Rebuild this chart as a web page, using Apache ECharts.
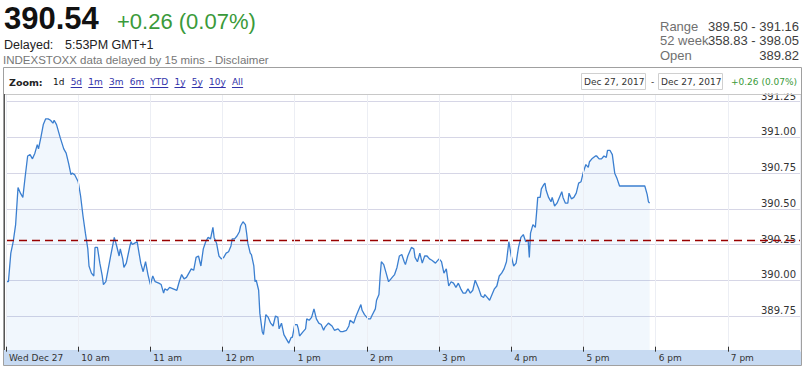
<!DOCTYPE html>
<html><head><meta charset="utf-8">
<script src="https://cdn.jsdelivr.net/npm/echarts@6/dist/echarts.min.js"></script>
<style>html,body{margin:0;padding:0;background:#fff}#c{width:807px;height:369px}</style>
</head><body><div id="c"></div>
<script>
// minutes after 09:00 on Wed Dec 27, 2017
const times = [
  0,2,4,6,8,10,12,14,16,18,
  20,22,24,26,27,29,31,33,35,37,
  39,40,42,44,45,48,50,52,54,55,
  57,60,62,64,66,68,69,71,73,74,
  76,78,80,81,83,85,87,90,92,94,
  95,97,98,100,103,104,105,107,109,111,
  112,114,116,118,120,122,124,127,129,131,
  132,134,136,139,142,144,146,148,150,152,
  154,156,158,160,162,164,166,168,170,172,
  173,175,177,179,181,183,185,187,188,190,
  192,194,195,197,199,200,201,203,204,206,
  207,208,210,211,213,214,216,218,220,222,
  224,226,227,229,231,233,235,237,238,240,
  242,243,244,247,249,250,252,254,256,258,
  260,262,264,265,268,271,273,276,278,280,
  283,285,286,289,291,293,295,296,298,301,
  303,304,307,308,310,311,312,314,316,318,
  320,321,323,325,327,329,331,332,334,337,
  339,340,342,344,346,348,350,352,354,357,
  358,360,362,364,366,368,370,372,374,376,
  378,380,382,384,386,388,390,393,395,397,
  398,400,402,404,406,408,410,412,414,416,
  418,420,422,424,426,428,430,432,434,435,
  436,438,440,441,442,444,445,447,448,449,
  451,453,454,456,458,460,462,463,465,467,
  468,470,472,474,476,478,480,482,484,485,
  487,490,491,493,495,497,499,500,502,504,
  506,508,510,516,521,527,531,533,534,535
];
const values = [
  389.99,389.99,390.19,390.27,390.39,390.65,390.61,390.58,390.73,390.87,
  390.88,390.85,390.89,390.95,390.92,391.00,391.09,391.13,391.13,391.12,
  391.10,391.12,391.09,391.03,391.00,390.92,390.89,390.82,390.74,390.75,
  390.74,390.69,390.59,390.45,390.33,390.22,390.10,390.05,390.03,390.23,
  390.23,390.12,390.03,389.97,389.99,390.08,390.17,390.30,390.24,390.17,
  390.22,390.15,390.09,390.12,390.24,390.27,390.25,390.26,390.27,390.17,
  390.12,390.06,390.13,390.04,389.97,390.03,389.99,389.98,389.97,389.91,
  389.94,389.93,389.95,389.94,389.93,389.99,390.04,390.01,390.02,390.05,
  390.08,390.07,390.16,390.17,390.10,390.22,390.27,390.30,390.29,390.37,
  390.30,390.26,390.17,390.15,390.16,390.19,390.20,390.24,390.29,390.29,
  390.31,390.34,390.38,390.41,390.39,390.33,390.26,390.19,390.18,390.10,
  389.99,390.00,389.93,389.77,389.64,389.62,389.76,389.74,389.70,389.68,
  389.75,389.74,389.66,389.70,389.62,389.59,389.56,389.60,389.60,389.69,
  389.69,389.66,389.61,389.64,389.66,389.73,389.72,389.74,389.80,389.73,
  389.70,389.69,389.65,389.67,389.70,389.68,389.65,389.66,389.64,389.64,
  389.65,389.68,389.72,389.70,389.75,389.79,389.83,389.79,389.76,389.73,
  389.73,389.75,389.80,389.86,389.90,390.03,390.13,390.11,390.05,389.99,
  390.01,390.02,390.04,390.09,390.17,390.18,390.13,390.11,390.17,390.23,
  390.22,390.16,390.13,390.19,390.12,390.17,390.17,390.15,390.14,390.12,
  390.13,390.15,390.13,390.05,390.08,389.96,389.99,389.98,389.95,389.98,
  389.94,389.91,389.91,389.94,389.91,389.93,390.00,389.94,389.89,389.88,
  389.90,389.88,389.86,389.90,389.94,389.96,390.03,390.05,390.08,390.13,
  390.27,390.17,390.10,390.12,390.23,390.30,390.32,390.27,390.28,390.16,
  390.33,390.39,390.37,390.47,390.58,390.58,390.64,390.67,390.68,390.63,
  390.58,390.55,390.58,390.52,390.54,390.58,390.62,390.58,390.54,390.54,
  390.61,390.57,390.58,390.61,390.68,390.69,390.76,390.81,390.79,390.83,
  390.85,390.87,390.87,390.85,390.85,390.87,390.86,390.91,390.91,390.88,
  390.75,390.71,390.66,390.66,390.66,390.66,390.66,390.60,390.55,390.54
];
const prevClose = 390.28;
const xTickLabels = ['Wed Dec 27','10 am','11 am','12 pm','1 pm','2 pm','3 pm','4 pm','5 pm','6 pm','7 pm'];
const xMin = 0, xMax = 660, xStep = 60;
const yMin = 389.5, yMax = 391.304, yStep = 0.25;
const lastPrice = '390.54';
const changeText = '+0.26 (0.07%)';
const delayedLabel = 'Delayed:';
const delayedTime = '5:53PM GMT+1';
const disclaimer = 'INDEXSTOXX data delayed by 15 mins - Disclaimer';
const infoLabels = ['Range','52 week','Open'];
const infoValues = ['389.50 - 391.16','358.83 - 398.05','389.82'];
const zoomCurrent = '1d';
const zoomLinks = ['5d','1m','3m','6m','YTD','1y','5y','10y','All'];
const dateFrom = 'Dec 27, 2017', dateTo = 'Dec 27, 2017';

const chart = echarts.init(document.getElementById('c'), null, {renderer:'svg', width:807, height:369});
const mctx = document.createElement('canvas').getContext('2d');
function tw(t, font){ mctx.font = font; return mctx.measureText(t).width; }

const G = [];
const txt = (text, x, y, font, fill, align, z) => G.push({type:'text', z: z||30, silent:true,
  style:{text, x, y, font, fill, align: align||'left', verticalAlign:'middle'}});

// header
txt(lastPrice, 4, 18.5, 'bold 31px "Liberation Sans", Arial', '#111');
txt(changeText, 117, 21.5, '22px "Liberation Sans", Arial', '#3a9a3a');
txt(delayedLabel, 4, 44.5, '12.5px "Liberation Sans", Arial', '#222');
txt(delayedTime, 65, 44.5, '12.5px "Liberation Sans", Arial', '#222');
txt(disclaimer, 3, 59.5, '11.5px "Liberation Sans", Arial', '#777');
const infoY = [26, 40.5, 55];
infoLabels.forEach((l,i)=>{
  txt(l, 660, infoY[i], '13px "Liberation Sans", Arial', '#707070');
  txt(infoValues[i], 799, infoY[i], '13px "Liberation Sans", Arial', '#404040', 'right');
});

// chart frame
G.push({type:'rect', z:15, silent:true, shape:{x:4, y:68, width:797, height:25.5}, style:{fill:'#fff'}});
G.push({type:'line', z:16, silent:true, shape:{x1:4, y1:94.5, x2:801, y2:94.5}, style:{stroke:'#c8c8c8', lineWidth:1}});
G.push({type:'rect', z:10, silent:true, shape:{x:4, y:350, width:797, height:15.5}, style:{fill:'#c7daf2'}});
G.push({type:'rect', z:20, silent:true, shape:{x:3.5, y:67.5, width:798, height:298}, style:{fill:null, stroke:'#a0a0a0', lineWidth:1}});
G.push({type:'line', z:21, silent:true, shape:{x1:4.5, y1:94, x2:4.5, y2:350}, style:{stroke:'#555', lineWidth:1}});

// zoom row
const zf = '9px "DejaVu Sans"';
txt('Zoom:', 9, 82, 'bold 9.5px "DejaVu Sans"', '#222');
let zx = 53;
txt(zoomCurrent, zx, 82, zf, '#111');
zx += tw(zoomCurrent, zf) + 6.2;
zoomLinks.forEach(l=>{
  const w = tw(l, zf);
  txt(l, zx, 82, zf, '#3333aa');
  G.push({type:'line', z:30, silent:true, shape:{x1:zx, y1:87.5, x2:zx+w, y2:87.5}, style:{stroke:'#3333aa', lineWidth:1}});
  zx += w + 6.2;
});
// date range boxes
G.push({type:'rect', z:30, silent:true, shape:{x:581.5, y:73.5, width:64, height:16}, style:{fill:'#fff', stroke:'#d0d0d0', lineWidth:1}});
G.push({type:'rect', z:30, silent:true, shape:{x:658.5, y:73.5, width:64, height:16}, style:{fill:'#fff', stroke:'#d0d0d0', lineWidth:1}});
txt(dateFrom, 584, 82, zf, '#333');
txt('-', 651, 82, zf, '#333');
txt(dateTo, 661, 82, zf, '#333');
txt(changeText, 797, 82, zf, '#3a9a3a', 'right');

chart.setOption({
  animation:false,
  backgroundColor:'#fff',
  grid:{left:6, right:7, top:94, bottom:17.3, containLabel:false},
  xAxis:{type:'value', min:xMin, max:xMax, interval:xStep, z:12,
    axisLine:{show:false},
    axisTick:{show:true, inside:true, length:5, lineStyle:{color:'#333', width:1}},
    splitLine:{show:true, lineStyle:{color:'#eceef4', width:1}},
    axisLabel:{margin:6, align:'left', verticalAlign:'middle', padding:[0,0,0,3], showMaxLabel:false,
      fontFamily:'DejaVu Sans', fontSize:9, color:'#333',
      formatter:v=>xTickLabels[Math.round(v/xStep)] || ''}
  },
  yAxis:{type:'value', position:'right', min:yMin, max:yMax, interval:yStep,
    axisLine:{show:false}, axisTick:{show:false},
    splitLine:{show:true, lineStyle:{color:'#d6d6e6', width:1}},
    axisLabel:{inside:true, margin:4, verticalAlign:'bottom', lineHeight:11, showMinLabel:false, showMaxLabel:false,
      fontFamily:'DejaVu Sans', fontSize:10, color:'#333', formatter:v=>v.toFixed(2)}
  },
  series:[{
    type:'line', showSymbol:false, z:2,
    data: times.map((t,i)=>[t, values[i]]),
    lineStyle:{color:'#3b7fd0', width:1.3},
    itemStyle:{color:'#3b7fd0'},
    areaStyle:{color:'rgba(60,140,230,0.1)', origin:'start'},
    markLine:{symbol:'none', silent:true, label:{show:false},
      lineStyle:{color:'#990000', type:[8,5], width:1.3},
      data:[{yAxis:prevClose}]}
  }],
  graphic: G
});
</script></body></html>
